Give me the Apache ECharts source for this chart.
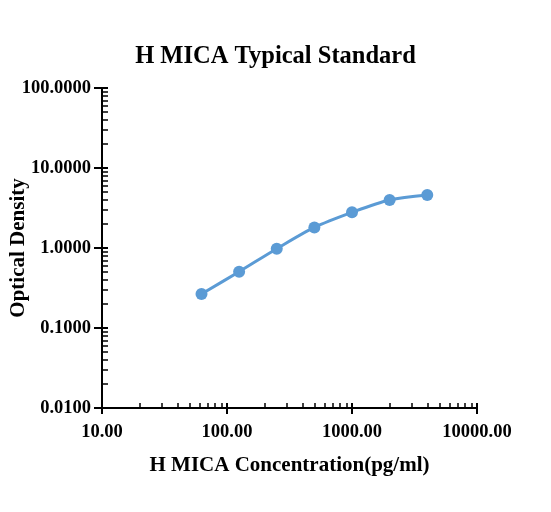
<html>
<head>
    <meta charset="utf-8">
    <title>H MICA Typical Standard</title>
    <script src="https://cdn.jsdelivr.net/npm/echarts@6/dist/echarts.min.js"></script>
</head>
<body style="margin: 0">
<div id="container" style="width: 551px; height: 512px"></div>
<script>
    // 标准曲线数据
    var concentration = [62.5, 125, 250, 500, 1000, 2000, 4000];
    var opticalDensity = [0.266, 0.506, 0.98, 1.81, 2.79, 3.98, 4.6];

    var points = [];
    for (var i = 0; i < concentration.length; i++) {
        points.push([concentration[i], opticalDensity[i]]);
    }

    var font = 'Liberation Serif';
    var myChart = echarts.init(document.getElementById('container'));

    // 第一根轴：轴线、标签、向外的主刻度；第二根轴：向内的主刻度和次刻度
    var option = {
        backgroundColor: '#fff',
        animation: false,
        title: {
            text: 'H MICA Typical Standard',
            left: 'center',
            top: 39,
            textStyle: {fontFamily: font, fontSize: 24.5, fontWeight: 'bold', color: '#000'}
        },
        grid: {left: 102, right: 74, top: 88, bottom: 104, outerBoundsMode: 'none'},
        xAxis: [{
            type: 'log', logBase: 10, min: 10, max: 10000,
            name: 'H MICA Concentration(pg/ml)',
            nameLocation: 'middle', nameGap: 47, nameMoveOverlap: false,
            nameTextStyle: {fontFamily: font, fontSize: 21, fontWeight: 'bold', color: '#000'},
            axisLine: {lineStyle: {color: '#000', width: 2}},
            axisTick: {inside: false, length: 6, lineStyle: {color: '#000', width: 2}},
            axisLabel: {
                fontFamily: font, fontSize: 18.5, fontWeight: 'bold', color: '#000', margin: 15,
                formatter: function (v) { return v.toFixed(2); }
            },
            splitLine: {show: false}
        }, {
            type: 'log', logBase: 10, min: 10, max: 10000, position: 'bottom',
            axisLine: {show: false},
            axisTick: {inside: true, length: 5, lineStyle: {color: '#000', width: 2}},
            minorTick: {show: true, splitNumber: 9, length: 5, lineStyle: {color: '#000', width: 1.5}},
            axisLabel: {show: false},
            splitLine: {show: false}
        }],
        yAxis: [{
            type: 'log', logBase: 10, min: 0.01, max: 100,
            name: 'Optical Density',
            nameLocation: 'middle', nameGap: 73, nameMoveOverlap: false,
            nameTextStyle: {fontFamily: font, fontSize: 21, fontWeight: 'bold', color: '#000'},
            axisLine: {show: true, lineStyle: {color: '#000', width: 2}},
            axisTick: {show: true, inside: false, length: 8, lineStyle: {color: '#000', width: 2}},
            axisLabel: {
                fontFamily: font, fontSize: 18.5, fontWeight: 'bold', color: '#000', margin: 11,
                formatter: function (v) { return v.toFixed(4); }
            },
            splitLine: {show: false}
        }, {
            type: 'log', logBase: 10, min: 0.01, max: 100, position: 'left',
            axisLine: {show: false},
            axisTick: {show: true, inside: true, length: 6, lineStyle: {color: '#000', width: 2}},
            minorTick: {show: true, splitNumber: 9, length: 6, lineStyle: {color: '#000', width: 1.5}},
            axisLabel: {show: false},
            splitLine: {show: false}
        }],
        series: [{
            type: 'line',
            data: points,
            smooth: 0.3,
            symbol: 'circle',
            symbolSize: 12,
            lineStyle: {color: '#5b9bd5', width: 3},
            itemStyle: {color: '#5b9bd5'}
        }]
    };

    myChart.setOption(option);
</script>
</body>
</html>
